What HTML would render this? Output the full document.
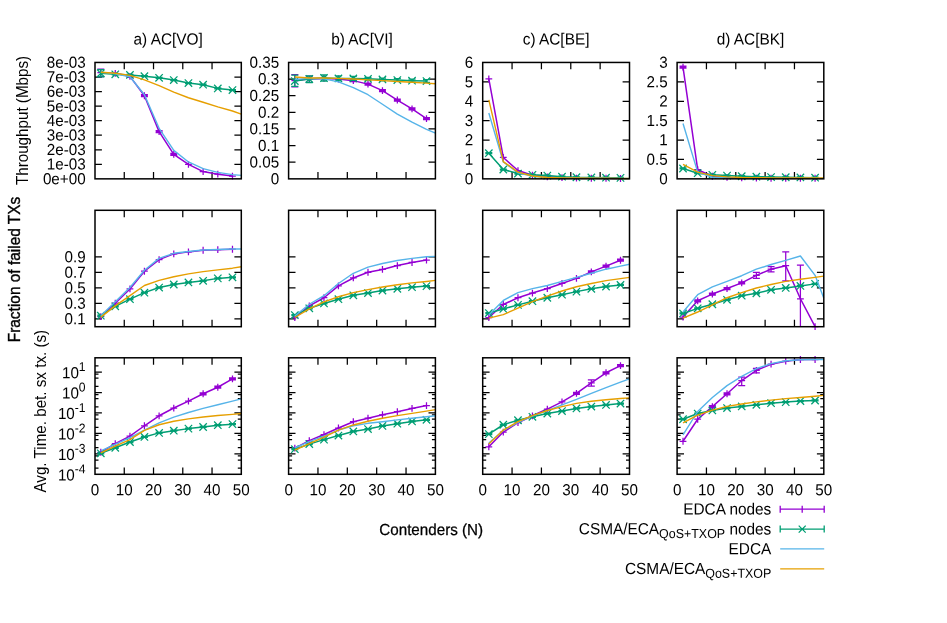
<!DOCTYPE html>
<html><head><meta charset="utf-8"><title>chart</title>
<style>html,body{margin:0;padding:0;background:#fff}body{width:947px;height:623px;overflow:hidden}svg{will-change:transform}</style>
</head><body>
<svg width="947" height="623" viewBox="0 0 947 623" style="display:block" font-family="Liberation Sans, sans-serif" font-size="15.2px" fill="#000">
<rect width="100%" height="100%" fill="#fff"/>
<path d="M124.26 178.85v-6.9M124.26 62.45v6.9M153.52 178.85v-6.9M153.52 62.45v6.9M182.78 178.85v-6.9M182.78 62.45v6.9M212.04 178.85v-6.9M212.04 62.45v6.9M95 164.3h6.9M241.3 164.3h-6.9M95 149.75h6.9M241.3 149.75h-6.9M95 135.2h6.9M241.3 135.2h-6.9M95 120.65h6.9M241.3 120.65h-6.9M95 106.1h6.9M241.3 106.1h-6.9M95 91.55h6.9M241.3 91.55h-6.9M95 77h6.9M241.3 77h-6.9" stroke="#000" stroke-width="1.25" fill="none"/>
<polyline points="100.8,72.69 115.27,73.31 129.95,76.36 144.42,95.73 159.1,131.6 173.77,154.43 188.45,164.41 203.12,171.55 217.8,174.2 232.47,176.03" fill="none" stroke="#9400D3" stroke-width="1.5" stroke-linejoin="round"/>
<path d="M97.4 72.69h6.8M100.8 69.29v6.8M100.8 69.23V76.57M97.3 69.23h7M97.3 76.57h7M111.87 73.31h6.8M115.27 69.91v6.8M126.55 76.36h6.8M129.95 72.96v6.8M126.45 75.36h7M126.45 77.36h7M141.02 95.73h6.8M144.42 92.33v6.8M140.92 94.73h7M140.92 96.73h7M155.7 131.6h6.8M159.1 128.2v6.8M155.6 130.6h7M155.6 132.6h7M170.37 154.43h6.8M173.77 151.03v6.8M170.27 153.43h7M170.27 155.43h7M185.05 164.41h6.8M188.45 161.01v6.8M199.72 171.55h6.8M203.12 168.15v6.8M214.4 174.2h6.8M217.8 170.8v6.8M229.07 176.03h6.8M232.47 172.63v6.8" fill="none" stroke="#9400D3" stroke-width="1.25"/>
<polyline points="100.8,73.31 115.27,74.32 129.95,74.94 144.42,76.16 159.1,77.79 173.77,80.03 188.45,83.09 203.12,84.72 217.8,88.39 232.47,90.02" fill="none" stroke="#009E73" stroke-width="1.5" stroke-linejoin="round"/>
<path d="M97.1 69.61l7.4 7.4M97.1 77.01l7.4 -7.4M100.8 69.64V76.97M97.3 69.64h7M97.3 76.97h7M111.57 70.62l7.4 7.4M111.57 78.02l7.4 -7.4M111.77 73.82h7M111.77 74.82h7M126.25 71.24l7.4 7.4M126.25 78.64l7.4 -7.4M126.45 74.44h7M126.45 75.44h7M140.72 72.46l7.4 7.4M140.72 79.86l7.4 -7.4M140.92 75.66h7M140.92 76.66h7M155.4 74.09l7.4 7.4M155.4 81.49l7.4 -7.4M155.6 77.29h7M155.6 78.29h7M170.07 76.33l7.4 7.4M170.07 83.73l7.4 -7.4M170.27 79.53h7M170.27 80.53h7M184.75 79.39l7.4 7.4M184.75 86.79l7.4 -7.4M184.95 82.59h7M184.95 83.59h7M199.42 81.02l7.4 7.4M199.42 88.42l7.4 -7.4M199.62 84.22h7M199.62 85.22h7M214.1 84.69l7.4 7.4M214.1 92.09l7.4 -7.4M214.3 87.89h7M214.3 88.89h7M228.77 86.32l7.4 7.4M228.77 93.72l7.4 -7.4M228.97 89.52h7M228.97 90.52h7" fill="none" stroke="#009E73" stroke-width="1.25"/>
<polyline points="100.8,72.29 115.27,73.71 129.95,76.77 144.42,94.71 159.1,128.34 173.77,150.35 188.45,161.97 203.12,168.69 217.8,172.36 232.47,174.61 241.24,175.42" fill="none" stroke="#56B4E9" stroke-width="1.4" stroke-linejoin="round"/>
<polyline points="100.8,72.29 115.27,73.31 129.95,75.34 144.42,79.83 159.1,85.54 173.77,92.06 188.45,97.76 203.12,102.25 217.8,106.94 232.47,111.01 241.24,114.07" fill="none" stroke="#E69F00" stroke-width="1.4" stroke-linejoin="round"/>
<rect x="95" y="62.45" width="146.3" height="116.4" fill="none" stroke="#000" stroke-width="1.5"/>
<path d="M317.96 178.85v-6.9M317.96 62.45v6.9M347.32 178.85v-6.9M347.32 62.45v6.9M376.68 178.85v-6.9M376.68 62.45v6.9M406.04 178.85v-6.9M406.04 62.45v6.9M288.6 162.22h6.9M435.4 162.22h-6.9M288.6 145.59h6.9M435.4 145.59h-6.9M288.6 128.96h6.9M435.4 128.96h-6.9M288.6 112.34h6.9M435.4 112.34h-6.9M288.6 95.71h6.9M435.4 95.71h-6.9M288.6 79.08h6.9M435.4 79.08h-6.9" stroke="#000" stroke-width="1.25" fill="none"/>
<polyline points="294.82,80.64 309.29,78.81 323.97,78.4 338.44,79.01 353.32,80.64 367.99,84.11 382.46,90.63 397.34,100.01 412.02,108.97 426.49,118.55" fill="none" stroke="#9400D3" stroke-width="1.5" stroke-linejoin="round"/>
<path d="M291.42 80.64h6.8M294.82 77.24v6.8M294.82 74.53V86.96M291.32 74.53h7M291.32 86.96h7M305.89 78.81h6.8M309.29 75.41v6.8M309.29 76.16V82.27M305.79 76.16h7M305.79 82.27h7M320.57 78.4h6.8M323.97 75v6.8M335.04 79.01h6.8M338.44 75.61v6.8M349.92 80.64h6.8M353.32 77.24v6.8M349.82 79.64h7M349.82 81.64h7M364.59 84.11h6.8M367.99 80.71v6.8M364.49 83.11h7M364.49 85.11h7M379.06 90.63h6.8M382.46 87.23v6.8M378.96 89.63h7M378.96 91.63h7M393.94 100.01h6.8M397.34 96.61v6.8M393.84 99.01h7M393.84 101.01h7M408.62 108.97h6.8M412.02 105.57v6.8M408.52 107.97h7M408.52 109.97h7M423.09 118.55h6.8M426.49 115.15v6.8M422.99 117.55h7M422.99 119.55h7" fill="none" stroke="#9400D3" stroke-width="1.25"/>
<polyline points="294.82,81.05 309.29,79.01 323.97,77.99 338.44,78.4 353.32,78.4 367.99,78.81 382.46,79.42 397.34,80.03 412.02,80.64 426.49,81.05" fill="none" stroke="#009E73" stroke-width="1.5" stroke-linejoin="round"/>
<path d="M291.12 77.35l7.4 7.4M291.12 84.75l7.4 -7.4M294.82 75.14V86.35M291.32 75.14h7M291.32 86.35h7M305.59 75.31l7.4 7.4M305.59 82.71l7.4 -7.4M309.29 75.75V82.68M305.79 75.75h7M305.79 82.68h7M320.27 74.29l7.4 7.4M320.27 81.69l7.4 -7.4M323.97 74.94V81.05M320.47 74.94h7M320.47 81.05h7M334.74 74.7l7.4 7.4M334.74 82.1l7.4 -7.4M338.44 75.96V80.85M334.94 75.96h7M334.94 80.85h7M349.62 74.7l7.4 7.4M349.62 82.1l7.4 -7.4M353.32 76.36V80.44M349.82 76.36h7M349.82 80.44h7M364.29 75.11l7.4 7.4M364.29 82.51l7.4 -7.4M364.49 77.41h7M364.49 80.21h7M378.76 75.72l7.4 7.4M378.76 83.12l7.4 -7.4M378.96 78.02h7M378.96 80.82h7M393.64 76.33l7.4 7.4M393.64 83.73l7.4 -7.4M393.84 78.63h7M393.84 81.43h7M408.32 76.94l7.4 7.4M408.32 84.34l7.4 -7.4M408.52 79.24h7M408.52 82.04h7M422.79 77.35l7.4 7.4M422.79 84.75l7.4 -7.4M422.99 79.65h7M422.99 82.45h7" fill="none" stroke="#009E73" stroke-width="1.25"/>
<polyline points="294.82,79.42 309.29,78.4 323.97,78.81 338.44,81.87 353.32,87.57 367.99,94.71 382.46,104.29 397.34,114.07 412.02,122.22 426.49,129.36 435.46,133.03" fill="none" stroke="#56B4E9" stroke-width="1.4" stroke-linejoin="round"/>
<polyline points="294.82,76.97 309.29,77.99 323.97,77.99 338.44,78.4 353.32,79.01 367.99,79.83 382.46,80.64 397.34,81.46 412.02,82.27 426.49,83.09 435.46,83.7" fill="none" stroke="#E69F00" stroke-width="1.4" stroke-linejoin="round"/>
<rect x="288.6" y="62.45" width="146.8" height="116.4" fill="none" stroke="#000" stroke-width="1.5"/>
<path d="M512.06 178.85v-6.9M512.06 62.45v6.9M541.42 178.85v-6.9M541.42 62.45v6.9M570.78 178.85v-6.9M570.78 62.45v6.9M600.14 178.85v-6.9M600.14 62.45v6.9M482.7 159.45h6.9M629.5 159.45h-6.9M482.7 140.05h6.9M629.5 140.05h-6.9M482.7 120.65h6.9M629.5 120.65h-6.9M482.7 101.25h6.9M629.5 101.25h-6.9M482.7 81.85h6.9M629.5 81.85h-6.9" stroke="#000" stroke-width="1.25" fill="none"/>
<polyline points="488.82,78.81 503.29,157.48 517.97,170.53 532.44,175.22 547.32,176.85 561.99,177.66 576.46,178.07 591.34,178.27 606.02,178.27 620.49,178.48" fill="none" stroke="#9400D3" stroke-width="1.5" stroke-linejoin="round"/>
<path d="M485.42 78.81h6.8M488.82 75.41v6.8M499.89 157.48h6.8M503.29 154.08v6.8M514.57 170.53h6.8M517.97 167.13v6.8M529.04 175.22h6.8M532.44 171.82v6.8M543.92 176.85h6.8M547.32 173.45v6.8M558.59 177.66h6.8M561.99 174.26v6.8M573.06 178.07h6.8M576.46 174.67v6.8M587.94 178.27h6.8M591.34 174.87v6.8M602.62 178.27h6.8M606.02 174.87v6.8M617.09 178.48h6.8M620.49 175.08v6.8" fill="none" stroke="#9400D3" stroke-width="1.25"/>
<polyline points="488.82,153.2 503.29,169.51 517.97,173.59 532.44,174.81 547.32,175.62 561.99,176.64 576.46,177.25 591.34,177.46 606.02,177.66 620.49,177.87" fill="none" stroke="#009E73" stroke-width="1.5" stroke-linejoin="round"/>
<path d="M485.12 149.5l7.4 7.4M485.12 156.9l7.4 -7.4M485.32 152.7h7M485.32 153.7h7M499.59 165.81l7.4 7.4M499.59 173.21l7.4 -7.4M499.79 169.01h7M499.79 170.01h7M514.27 169.89l7.4 7.4M514.27 177.29l7.4 -7.4M514.47 173.09h7M514.47 174.09h7M528.74 171.11l7.4 7.4M528.74 178.51l7.4 -7.4M528.94 174.31h7M528.94 175.31h7M543.62 171.92l7.4 7.4M543.62 179.32l7.4 -7.4M543.82 175.12h7M543.82 176.12h7M558.29 172.94l7.4 7.4M558.29 180.34l7.4 -7.4M558.49 176.14h7M558.49 177.14h7M572.76 173.55l7.4 7.4M572.76 180.95l7.4 -7.4M572.96 176.75h7M572.96 177.75h7M587.64 173.76l7.4 7.4M587.64 181.16l7.4 -7.4M587.84 176.96h7M587.84 177.96h7M602.32 173.96l7.4 7.4M602.32 181.36l7.4 -7.4M602.52 177.16h7M602.52 178.16h7M616.79 174.17l7.4 7.4M616.79 181.57l7.4 -7.4M616.99 177.37h7M616.99 178.37h7" fill="none" stroke="#009E73" stroke-width="1.25"/>
<polyline points="488.82,113.05 503.29,161.97 517.97,172.77 532.44,176.24 547.32,177.46 561.99,177.87 576.46,178.07 591.34,178.27 606.02,178.27 620.49,178.48 629.46,178.48" fill="none" stroke="#56B4E9" stroke-width="1.4" stroke-linejoin="round"/>
<polyline points="488.82,99.8 503.29,161.56 517.97,172.16 532.44,176.03 547.32,177.46 561.99,177.87 576.46,178.07 591.34,178.27 606.02,178.27 620.49,178.48 629.46,178.48" fill="none" stroke="#E69F00" stroke-width="1.4" stroke-linejoin="round"/>
<rect x="482.7" y="62.45" width="146.8" height="116.4" fill="none" stroke="#000" stroke-width="1.5"/>
<path d="M706.44 178.85v-6.9M706.44 62.45v6.9M735.78 178.85v-6.9M735.78 62.45v6.9M765.12 178.85v-6.9M765.12 62.45v6.9M794.46 178.85v-6.9M794.46 62.45v6.9M677.1 159.45h6.9M823.8 159.45h-6.9M677.1 140.05h6.9M823.8 140.05h-6.9M677.1 120.65h6.9M823.8 120.65h-6.9M677.1 101.25h6.9M823.8 101.25h-6.9M677.1 81.85h6.9M823.8 81.85h-6.9" stroke="#000" stroke-width="1.25" fill="none"/>
<polyline points="683.01,67.19 697.68,169.71 712.36,176.24 727.03,177.46 741.71,177.87 756.38,178.07 771.06,178.27 785.73,178.27 800.41,178.27 815.08,178.27" fill="none" stroke="#9400D3" stroke-width="1.5" stroke-linejoin="round"/>
<path d="M679.61 67.19h6.8M683.01 63.79v6.8M679.51 66.19h7M679.51 68.19h7M694.28 169.71h6.8M697.68 166.31v6.8M708.96 176.24h6.8M712.36 172.84v6.8M723.63 177.46h6.8M727.03 174.06v6.8M738.31 177.87h6.8M741.71 174.47v6.8M752.98 178.07h6.8M756.38 174.67v6.8M767.66 178.27h6.8M771.06 174.87v6.8M782.33 178.27h6.8M785.73 174.87v6.8M797.01 178.27h6.8M800.41 174.87v6.8M811.68 178.27h6.8M815.08 174.87v6.8" fill="none" stroke="#9400D3" stroke-width="1.25"/>
<polyline points="683.01,168.49 697.68,173.18 712.36,174.81 727.03,175.62 741.71,176.24 756.38,176.64 771.06,177.05 785.73,177.25 800.41,177.46 815.08,177.66" fill="none" stroke="#009E73" stroke-width="1.5" stroke-linejoin="round"/>
<path d="M679.31 164.79l7.4 7.4M679.31 172.19l7.4 -7.4M679.51 167.99h7M679.51 168.99h7M693.98 169.48l7.4 7.4M693.98 176.88l7.4 -7.4M694.18 172.68h7M694.18 173.68h7M708.66 171.11l7.4 7.4M708.66 178.51l7.4 -7.4M708.86 174.31h7M708.86 175.31h7M723.33 171.92l7.4 7.4M723.33 179.32l7.4 -7.4M723.53 175.12h7M723.53 176.12h7M738.01 172.54l7.4 7.4M738.01 179.94l7.4 -7.4M738.21 175.74h7M738.21 176.74h7M752.68 172.94l7.4 7.4M752.68 180.34l7.4 -7.4M752.88 176.14h7M752.88 177.14h7M767.36 173.35l7.4 7.4M767.36 180.75l7.4 -7.4M767.56 176.55h7M767.56 177.55h7M782.03 173.55l7.4 7.4M782.03 180.95l7.4 -7.4M782.23 176.75h7M782.23 177.75h7M796.71 173.76l7.4 7.4M796.71 181.16l7.4 -7.4M796.91 176.96h7M796.91 177.96h7M811.38 173.96l7.4 7.4M811.38 181.36l7.4 -7.4M811.58 177.16h7M811.58 178.16h7" fill="none" stroke="#009E73" stroke-width="1.25"/>
<polyline points="683.01,123.45 697.68,172.16 712.36,177.25 727.03,177.87 741.71,178.07 756.38,178.27 771.06,178.27 785.73,178.27 800.41,178.27 815.08,178.27 823.64,178.27" fill="none" stroke="#56B4E9" stroke-width="1.4" stroke-linejoin="round"/>
<polyline points="683.01,164.41 697.68,172.16 712.36,175.62 727.03,176.85 741.71,177.46 756.38,177.66 771.06,177.87 785.73,178.07 800.41,178.07 815.08,178.07 823.64,178.07" fill="none" stroke="#E69F00" stroke-width="1.4" stroke-linejoin="round"/>
<rect x="677.1" y="62.45" width="146.7" height="116.4" fill="none" stroke="#000" stroke-width="1.5"/>
<path d="M124.26 326.7v-6.9M124.26 210.3v6.9M153.52 326.7v-6.9M153.52 210.3v6.9M182.78 326.7v-6.9M182.78 210.3v6.9M212.04 326.7v-6.9M212.04 210.3v6.9M95 318.94h6.9M241.3 318.94h-6.9M95 303.42h6.9M241.3 303.42h-6.9M95 287.9h6.9M241.3 287.9h-6.9M95 272.38h6.9M241.3 272.38h-6.9M95 256.86h6.9M241.3 256.86h-6.9" stroke="#000" stroke-width="1.25" fill="none"/>
<polyline points="100.8,316.69 115.27,303.24 129.95,288.97 144.42,271.24 159.1,259.62 173.77,253.92 188.45,251.88 203.12,250.25 217.8,249.64 232.47,249.23" fill="none" stroke="#9400D3" stroke-width="1.5" stroke-linejoin="round"/>
<path d="M97.4 316.69h6.8M100.8 313.29v6.8M111.87 303.24h6.8M115.27 299.84v6.8M126.55 288.97h6.8M129.95 285.57v6.8M141.02 271.24h6.8M144.42 267.84v6.8M155.7 259.62h6.8M159.1 256.22v6.8M170.37 253.92h6.8M173.77 250.52v6.8M185.05 251.88h6.8M188.45 248.48v6.8M199.72 250.25h6.8M203.12 246.85v6.8M214.4 249.64h6.8M217.8 246.24v6.8M229.07 249.23h6.8M232.47 245.83v6.8" fill="none" stroke="#9400D3" stroke-width="1.25"/>
<polyline points="100.8,315.68 115.27,306.3 129.95,299.17 144.42,292.64 159.1,287.55 173.77,284.49 188.45,282.45 203.12,280.82 217.8,278.38 232.47,277.36" fill="none" stroke="#009E73" stroke-width="1.5" stroke-linejoin="round"/>
<path d="M97.1 311.98l7.4 7.4M97.1 319.38l7.4 -7.4M97.3 315.18h7M97.3 316.18h7M111.57 302.6l7.4 7.4M111.57 310l7.4 -7.4M111.77 305.8h7M111.77 306.8h7M126.25 295.47l7.4 7.4M126.25 302.87l7.4 -7.4M126.45 298.67h7M126.45 299.67h7M140.72 288.94l7.4 7.4M140.72 296.34l7.4 -7.4M140.92 292.14h7M140.92 293.14h7M155.4 283.85l7.4 7.4M155.4 291.25l7.4 -7.4M155.6 287.05h7M155.6 288.05h7M170.07 280.79l7.4 7.4M170.07 288.19l7.4 -7.4M170.27 283.99h7M170.27 284.99h7M184.75 278.75l7.4 7.4M184.75 286.15l7.4 -7.4M184.95 281.95h7M184.95 282.95h7M199.42 277.12l7.4 7.4M199.42 284.52l7.4 -7.4M199.62 280.32h7M199.62 281.32h7M214.1 274.68l7.4 7.4M214.1 282.08l7.4 -7.4M214.3 277.88h7M214.3 278.88h7M228.77 273.66l7.4 7.4M228.77 281.06l7.4 -7.4M228.97 276.86h7M228.97 277.86h7" fill="none" stroke="#009E73" stroke-width="1.25"/>
<polyline points="100.8,315.68 115.27,301.82 129.95,287.55 144.42,270.22 159.1,258.4 173.77,253.31 188.45,251.47 203.12,250.04 217.8,249.43 232.47,249.03 241.24,249.03" fill="none" stroke="#56B4E9" stroke-width="1.4" stroke-linejoin="round"/>
<polyline points="100.8,317.1 115.27,305.89 129.95,295.7 144.42,285.51 159.1,280.41 173.77,276.75 188.45,273.89 203.12,271.65 217.8,269.82 232.47,268.18 241.24,266.76" fill="none" stroke="#E69F00" stroke-width="1.4" stroke-linejoin="round"/>
<rect x="95" y="210.3" width="146.3" height="116.4" fill="none" stroke="#000" stroke-width="1.5"/>
<path d="M317.96 326.7v-6.9M317.96 210.3v6.9M347.32 326.7v-6.9M347.32 210.3v6.9M376.68 326.7v-6.9M376.68 210.3v6.9M406.04 326.7v-6.9M406.04 210.3v6.9M288.6 318.94h6.9M435.4 318.94h-6.9M288.6 303.42h6.9M435.4 303.42h-6.9M288.6 287.9h6.9M435.4 287.9h-6.9M288.6 272.38h6.9M435.4 272.38h-6.9M288.6 256.86h6.9M435.4 256.86h-6.9" stroke="#000" stroke-width="1.25" fill="none"/>
<polyline points="294.82,317.71 309.29,305.89 323.97,297.74 338.44,285.92 353.32,277.97 367.99,272.26 382.46,269.41 397.34,265.54 412.02,262.48 426.49,260.03" fill="none" stroke="#9400D3" stroke-width="1.5" stroke-linejoin="round"/>
<path d="M291.42 317.71h6.8M294.82 314.31v6.8M305.89 305.89h6.8M309.29 302.49v6.8M320.57 297.74h6.8M323.97 294.34v6.8M335.04 285.92h6.8M338.44 282.52v6.8M349.92 277.97h6.8M353.32 274.57v6.8M364.59 272.26h6.8M367.99 268.86v6.8M379.06 269.41h6.8M382.46 266.01v6.8M393.94 265.54h6.8M397.34 262.14v6.8M408.62 262.48h6.8M412.02 259.08v6.8M423.09 260.03h6.8M426.49 256.63v6.8" fill="none" stroke="#9400D3" stroke-width="1.25"/>
<polyline points="294.82,315.06 309.29,308.34 323.97,303.45 338.44,299.17 353.32,295.29 367.99,293.05 382.46,290.61 397.34,288.77 412.02,287.14 426.49,286.12" fill="none" stroke="#009E73" stroke-width="1.5" stroke-linejoin="round"/>
<path d="M291.12 311.36l7.4 7.4M291.12 318.76l7.4 -7.4M291.32 314.56h7M291.32 315.56h7M305.59 304.64l7.4 7.4M305.59 312.04l7.4 -7.4M305.79 307.84h7M305.79 308.84h7M320.27 299.75l7.4 7.4M320.27 307.15l7.4 -7.4M320.47 302.95h7M320.47 303.95h7M334.74 295.47l7.4 7.4M334.74 302.87l7.4 -7.4M334.94 298.67h7M334.94 299.67h7M349.62 291.59l7.4 7.4M349.62 298.99l7.4 -7.4M349.82 294.79h7M349.82 295.79h7M364.29 289.35l7.4 7.4M364.29 296.75l7.4 -7.4M364.49 292.55h7M364.49 293.55h7M378.76 286.91l7.4 7.4M378.76 294.31l7.4 -7.4M378.96 290.11h7M378.96 291.11h7M393.64 285.07l7.4 7.4M393.64 292.47l7.4 -7.4M393.84 288.27h7M393.84 289.27h7M408.32 283.44l7.4 7.4M408.32 290.84l7.4 -7.4M408.52 286.64h7M408.52 287.64h7M422.79 282.42l7.4 7.4M422.79 289.82l7.4 -7.4M422.99 285.62h7M422.99 286.62h7" fill="none" stroke="#009E73" stroke-width="1.25"/>
<polyline points="294.82,316.08 309.29,304.26 323.97,295.7 338.44,283.47 353.32,273.28 367.99,267.17 382.46,263.5 397.34,260.44 412.02,258.4 426.49,256.77 435.46,256.36" fill="none" stroke="#56B4E9" stroke-width="1.4" stroke-linejoin="round"/>
<polyline points="294.82,317.51 309.29,308.95 323.97,301.82 338.44,296.72 353.32,292.64 367.99,289.59 382.46,286.94 397.34,284.69 412.02,282.86 426.49,281.43 435.46,280.41" fill="none" stroke="#E69F00" stroke-width="1.4" stroke-linejoin="round"/>
<rect x="288.6" y="210.3" width="146.8" height="116.4" fill="none" stroke="#000" stroke-width="1.5"/>
<path d="M512.06 326.7v-6.9M512.06 210.3v6.9M541.42 326.7v-6.9M541.42 210.3v6.9M570.78 326.7v-6.9M570.78 210.3v6.9M600.14 326.7v-6.9M600.14 210.3v6.9M482.7 318.94h6.9M629.5 318.94h-6.9M482.7 303.42h6.9M629.5 303.42h-6.9M482.7 287.9h6.9M629.5 287.9h-6.9M482.7 272.38h6.9M629.5 272.38h-6.9M482.7 256.86h6.9M629.5 256.86h-6.9" stroke="#000" stroke-width="1.25" fill="none"/>
<polyline points="488.82,317.51 503.29,304.46 517.97,297.74 532.44,293.05 547.32,288.57 561.99,283.47 576.46,278.38 591.34,271.85 606.02,266.15 620.49,260.24" fill="none" stroke="#9400D3" stroke-width="1.5" stroke-linejoin="round"/>
<path d="M485.42 317.51h6.8M488.82 314.11v6.8M499.89 304.46h6.8M503.29 301.06v6.8M514.57 297.74h6.8M517.97 294.34v6.8M529.04 293.05h6.8M532.44 289.65v6.8M543.92 288.57h6.8M547.32 285.17v6.8M558.59 283.47h6.8M561.99 280.07v6.8M573.06 278.38h6.8M576.46 274.98v6.8M587.94 271.85h6.8M591.34 268.45v6.8M587.84 270.85h7M587.84 272.85h7M602.62 266.15h6.8M606.02 262.75v6.8M602.52 265.15h7M602.52 267.15h7M617.09 260.24h6.8M620.49 256.84v6.8M616.99 259.24h7M616.99 261.24h7" fill="none" stroke="#9400D3" stroke-width="1.25"/>
<polyline points="488.82,313.03 503.29,308.95 517.97,304.87 532.44,301.2 547.32,297.74 561.99,294.68 576.46,291.62 591.34,288.77 606.02,286.53 620.49,284.9" fill="none" stroke="#009E73" stroke-width="1.5" stroke-linejoin="round"/>
<path d="M485.12 309.33l7.4 7.4M485.12 316.73l7.4 -7.4M485.32 312.53h7M485.32 313.53h7M499.59 305.25l7.4 7.4M499.59 312.65l7.4 -7.4M499.79 308.45h7M499.79 309.45h7M514.27 301.17l7.4 7.4M514.27 308.57l7.4 -7.4M514.47 304.37h7M514.47 305.37h7M528.74 297.5l7.4 7.4M528.74 304.9l7.4 -7.4M528.94 300.7h7M528.94 301.7h7M543.62 294.04l7.4 7.4M543.62 301.44l7.4 -7.4M543.82 297.24h7M543.82 298.24h7M558.29 290.98l7.4 7.4M558.29 298.38l7.4 -7.4M558.49 294.18h7M558.49 295.18h7M572.76 287.92l7.4 7.4M572.76 295.32l7.4 -7.4M572.96 291.12h7M572.96 292.12h7M587.64 285.07l7.4 7.4M587.64 292.47l7.4 -7.4M587.84 288.27h7M587.84 289.27h7M602.32 282.83l7.4 7.4M602.32 290.23l7.4 -7.4M602.52 286.03h7M602.52 287.03h7M616.79 281.2l7.4 7.4M616.79 288.6l7.4 -7.4M616.99 284.4h7M616.99 285.4h7" fill="none" stroke="#009E73" stroke-width="1.25"/>
<polyline points="488.82,315.06 503.29,300.39 517.97,292.64 532.44,288.57 547.32,285.51 561.99,281.43 576.46,277.36 591.34,273.28 606.02,269.2 620.49,266.15 629.46,264.31" fill="none" stroke="#56B4E9" stroke-width="1.4" stroke-linejoin="round"/>
<polyline points="488.82,318.12 503.29,314.66 517.97,308.13 532.44,301.61 547.32,296.11 561.99,291.01 576.46,286.73 591.34,283.47 606.02,280.62 620.49,278.58 629.46,277.36" fill="none" stroke="#E69F00" stroke-width="1.4" stroke-linejoin="round"/>
<rect x="482.7" y="210.3" width="146.8" height="116.4" fill="none" stroke="#000" stroke-width="1.5"/>
<path d="M706.44 326.7v-6.9M706.44 210.3v6.9M735.78 326.7v-6.9M735.78 210.3v6.9M765.12 326.7v-6.9M765.12 210.3v6.9M794.46 326.7v-6.9M794.46 210.3v6.9M677.1 318.94h6.9M823.8 318.94h-6.9M677.1 303.42h6.9M823.8 303.42h-6.9M677.1 287.9h6.9M823.8 287.9h-6.9M677.1 272.38h6.9M823.8 272.38h-6.9M677.1 256.86h6.9M823.8 256.86h-6.9" stroke="#000" stroke-width="1.25" fill="none"/>
<polyline points="683.01,317.1 697.68,300.8 712.36,294.07 727.03,288.57 741.71,282.86 756.38,275.32 771.06,269.2 785.73,265.74 800.41,298.76 815.08,326.68" fill="none" stroke="#9400D3" stroke-width="1.5" stroke-linejoin="round"/>
<path d="M679.61 317.1h6.8M683.01 313.7v6.8M694.28 300.8h6.8M697.68 297.4v6.8M694.18 299.8h7M694.18 301.8h7M708.96 294.07h6.8M712.36 290.67v6.8M708.86 293.07h7M708.86 295.07h7M723.63 288.57h6.8M727.03 285.17v6.8M723.53 287.57h7M723.53 289.57h7M738.31 282.86h6.8M741.71 279.46v6.8M738.21 281.86h7M738.21 283.86h7M752.98 275.32h6.8M756.38 271.92v6.8M756.38 272.26V278.38M752.88 272.26h7M752.88 278.38h7M767.66 269.2h6.8M771.06 265.8v6.8M771.06 266.55V271.85M767.56 266.55h7M767.56 271.85h7M782.33 265.74h6.8M785.73 262.34v6.8M785.73 251.88V280.82M782.23 251.88h7M782.23 280.82h7M797.01 298.76h6.8M800.41 295.36v6.8M800.41 265.13V326.68M796.91 265.13h7M811.68 326.68h6.8M815.08 323.28v6.8" fill="none" stroke="#9400D3" stroke-width="1.25"/>
<polyline points="683.01,313.43 697.68,308.34 712.36,304.26 727.03,299.78 741.71,295.7 756.38,293.25 771.06,289.79 785.73,287.96 800.41,285.92 815.08,283.88" fill="none" stroke="#009E73" stroke-width="1.5" stroke-linejoin="round"/>
<path d="M679.31 309.73l7.4 7.4M679.31 317.13l7.4 -7.4M679.51 312.93h7M679.51 313.93h7M693.98 304.64l7.4 7.4M693.98 312.04l7.4 -7.4M694.18 307.84h7M694.18 308.84h7M708.66 300.56l7.4 7.4M708.66 307.96l7.4 -7.4M708.86 303.76h7M708.86 304.76h7M723.33 296.08l7.4 7.4M723.33 303.48l7.4 -7.4M723.53 299.28h7M723.53 300.28h7M738.01 292l7.4 7.4M738.01 299.4l7.4 -7.4M738.21 295.2h7M738.21 296.2h7M752.68 289.55l7.4 7.4M752.68 296.95l7.4 -7.4M752.88 292.75h7M752.88 293.75h7M767.36 286.09l7.4 7.4M767.36 293.49l7.4 -7.4M767.56 289.29h7M767.56 290.29h7M782.03 284.26l7.4 7.4M782.03 291.66l7.4 -7.4M782.23 287.46h7M782.23 288.46h7M796.71 282.22l7.4 7.4M796.71 289.62l7.4 -7.4M796.91 285.42h7M796.91 286.42h7M811.38 280.18l7.4 7.4M811.38 287.58l7.4 -7.4M811.58 283.38h7M811.58 284.38h7" fill="none" stroke="#009E73" stroke-width="1.25"/>
<polyline points="683.01,312.01 697.68,294.68 712.36,286.94 727.03,281.43 741.71,275.73 756.38,269.2 771.06,264.52 785.73,260.44 800.41,255.96 815.08,275.32 823.64,297.74" fill="none" stroke="#56B4E9" stroke-width="1.4" stroke-linejoin="round"/>
<polyline points="683.01,318.12 697.68,312.01 712.36,304.87 727.03,297.74 741.71,292.64 756.38,287.96 771.06,284.49 785.73,281.43 800.41,279.19 815.08,277.36 823.64,276.13" fill="none" stroke="#E69F00" stroke-width="1.4" stroke-linejoin="round"/>
<rect x="677.1" y="210.3" width="146.7" height="116.4" fill="none" stroke="#000" stroke-width="1.5"/>
<path d="M124.26 474.3v-6.9M124.26 357.8v6.9M153.52 474.3v-6.9M153.52 357.8v6.9M182.78 474.3v-6.9M182.78 357.8v6.9M212.04 474.3v-6.9M212.04 357.8v6.9M95 453.86h6.9M241.3 453.86h-6.9M95 433.42h6.9M241.3 433.42h-6.9M95 412.97h6.9M241.3 412.97h-6.9M95 392.53h6.9M241.3 392.53h-6.9M95 372.09h6.9M241.3 372.09h-6.9M95 468.15h3.5M241.3 468.15h-3.5M95 460.01h3.5M241.3 460.01h-3.5M95 455.84h3.5M241.3 455.84h-3.5M95 447.7h3.5M241.3 447.7h-3.5M95 439.57h3.5M241.3 439.57h-3.5M95 435.4h3.5M241.3 435.4h-3.5M95 427.26h3.5M241.3 427.26h-3.5M95 419.13h3.5M241.3 419.13h-3.5M95 414.95h3.5M241.3 414.95h-3.5M95 406.82h3.5M241.3 406.82h-3.5M95 398.68h3.5M241.3 398.68h-3.5M95 394.51h3.5M241.3 394.51h-3.5M95 386.38h3.5M241.3 386.38h-3.5M95 378.24h3.5M241.3 378.24h-3.5M95 374.07h3.5M241.3 374.07h-3.5M95 365.93h3.5M241.3 365.93h-3.5" stroke="#000" stroke-width="1.25" fill="none"/>
<polyline points="100.8,452.26 115.27,443.7 129.95,436.16 144.42,425.76 159.1,415.78 173.77,408.03 188.45,401.1 203.12,393.76 217.8,387.24 232.47,378.89" fill="none" stroke="#9400D3" stroke-width="1.5" stroke-linejoin="round"/>
<path d="M97.4 452.26h6.8M100.8 448.86v6.8M111.87 443.7h6.8M115.27 440.3v6.8M126.55 436.16h6.8M129.95 432.76v6.8M141.02 425.76h6.8M144.42 422.36v6.8M155.7 415.78h6.8M159.1 412.38v6.8M170.37 408.03h6.8M173.77 404.63v6.8M185.05 401.1h6.8M188.45 397.7v6.8M199.72 393.76h6.8M203.12 390.36v6.8M199.62 392.76h7M199.62 394.76h7M214.4 387.24h6.8M217.8 383.84v6.8M214.3 386.24h7M214.3 388.24h7M229.07 378.89h6.8M232.47 375.49v6.8M228.97 377.89h7M228.97 379.89h7" fill="none" stroke="#9400D3" stroke-width="1.25"/>
<polyline points="100.8,453.28 115.27,447.78 129.95,442.07 144.42,436.97 159.1,432.9 173.77,430.66 188.45,428.62 203.12,426.99 217.8,425.15 232.47,424.13" fill="none" stroke="#009E73" stroke-width="1.5" stroke-linejoin="round"/>
<path d="M97.1 449.58l7.4 7.4M97.1 456.98l7.4 -7.4M97.3 452.78h7M97.3 453.78h7M111.57 444.08l7.4 7.4M111.57 451.48l7.4 -7.4M111.77 447.28h7M111.77 448.28h7M126.25 438.37l7.4 7.4M126.25 445.77l7.4 -7.4M126.45 441.57h7M126.45 442.57h7M140.72 433.27l7.4 7.4M140.72 440.67l7.4 -7.4M140.92 436.47h7M140.92 437.47h7M155.4 429.2l7.4 7.4M155.4 436.6l7.4 -7.4M155.6 432.4h7M155.6 433.4h7M170.07 426.96l7.4 7.4M170.07 434.36l7.4 -7.4M170.27 430.16h7M170.27 431.16h7M184.75 424.92l7.4 7.4M184.75 432.32l7.4 -7.4M184.95 428.12h7M184.95 429.12h7M199.42 423.29l7.4 7.4M199.42 430.69l7.4 -7.4M199.62 426.49h7M199.62 427.49h7M214.1 421.45l7.4 7.4M214.1 428.85l7.4 -7.4M214.3 424.65h7M214.3 425.65h7M228.77 420.43l7.4 7.4M228.77 427.83l7.4 -7.4M228.97 423.63h7M228.97 424.63h7" fill="none" stroke="#009E73" stroke-width="1.25"/>
<polyline points="100.8,450.83 115.27,444.31 129.95,437.59 144.42,430.04 159.1,422.91 173.77,417.2 188.45,412.52 203.12,408.44 217.8,404.77 232.47,401.1 241.24,398.86" fill="none" stroke="#56B4E9" stroke-width="1.4" stroke-linejoin="round"/>
<polyline points="100.8,452.87 115.27,446.15 129.95,439.62 144.42,430.45 159.1,424.75 173.77,421.28 188.45,418.83 203.12,417 217.8,415.57 232.47,414.35 241.24,413.54" fill="none" stroke="#E69F00" stroke-width="1.4" stroke-linejoin="round"/>
<rect x="95" y="357.8" width="146.3" height="116.5" fill="none" stroke="#000" stroke-width="1.5"/>
<path d="M317.96 474.3v-6.9M317.96 357.8v6.9M347.32 474.3v-6.9M347.32 357.8v6.9M376.68 474.3v-6.9M376.68 357.8v6.9M406.04 474.3v-6.9M406.04 357.8v6.9M288.6 453.86h6.9M435.4 453.86h-6.9M288.6 433.42h6.9M435.4 433.42h-6.9M288.6 412.97h6.9M435.4 412.97h-6.9M288.6 392.53h6.9M435.4 392.53h-6.9M288.6 372.09h6.9M435.4 372.09h-6.9M288.6 468.15h3.5M435.4 468.15h-3.5M288.6 460.01h3.5M435.4 460.01h-3.5M288.6 455.84h3.5M435.4 455.84h-3.5M288.6 447.7h3.5M435.4 447.7h-3.5M288.6 439.57h3.5M435.4 439.57h-3.5M288.6 435.4h3.5M435.4 435.4h-3.5M288.6 427.26h3.5M435.4 427.26h-3.5M288.6 419.13h3.5M435.4 419.13h-3.5M288.6 414.95h3.5M435.4 414.95h-3.5M288.6 406.82h3.5M435.4 406.82h-3.5M288.6 398.68h3.5M435.4 398.68h-3.5M288.6 394.51h3.5M435.4 394.51h-3.5M288.6 386.38h3.5M435.4 386.38h-3.5M288.6 378.24h3.5M435.4 378.24h-3.5M288.6 374.07h3.5M435.4 374.07h-3.5M288.6 365.93h3.5M435.4 365.93h-3.5" stroke="#000" stroke-width="1.25" fill="none"/>
<polyline points="294.82,448.18 309.29,440.64 323.97,434.53 338.44,428.01 353.32,421.69 367.99,418.22 382.46,414.76 397.34,411.7 412.02,408.44 426.49,405.59" fill="none" stroke="#9400D3" stroke-width="1.5" stroke-linejoin="round"/>
<path d="M291.42 448.18h6.8M294.82 444.78v6.8M305.89 440.64h6.8M309.29 437.24v6.8M320.57 434.53h6.8M323.97 431.13v6.8M335.04 428.01h6.8M338.44 424.61v6.8M349.92 421.69h6.8M353.32 418.29v6.8M364.59 418.22h6.8M367.99 414.82v6.8M379.06 414.76h6.8M382.46 411.36v6.8M393.94 411.7h6.8M397.34 408.3v6.8M408.62 408.44h6.8M412.02 405.04v6.8M423.09 405.59h6.8M426.49 402.19v6.8" fill="none" stroke="#9400D3" stroke-width="1.25"/>
<polyline points="294.82,449.2 309.29,444.11 323.97,439.62 338.44,435.55 353.32,431.47 367.99,429.03 382.46,425.97 397.34,423.73 412.02,421.48 426.49,419.85" fill="none" stroke="#009E73" stroke-width="1.5" stroke-linejoin="round"/>
<path d="M291.12 445.5l7.4 7.4M291.12 452.9l7.4 -7.4M291.32 448.7h7M291.32 449.7h7M305.59 440.41l7.4 7.4M305.59 447.81l7.4 -7.4M305.79 443.61h7M305.79 444.61h7M320.27 435.92l7.4 7.4M320.27 443.32l7.4 -7.4M320.47 439.12h7M320.47 440.12h7M334.74 431.85l7.4 7.4M334.74 439.25l7.4 -7.4M334.94 435.05h7M334.94 436.05h7M349.62 427.77l7.4 7.4M349.62 435.17l7.4 -7.4M349.82 430.97h7M349.82 431.97h7M364.29 425.33l7.4 7.4M364.29 432.73l7.4 -7.4M364.49 428.53h7M364.49 429.53h7M378.76 422.27l7.4 7.4M378.76 429.67l7.4 -7.4M378.96 425.47h7M378.96 426.47h7M393.64 420.03l7.4 7.4M393.64 427.43l7.4 -7.4M393.84 423.23h7M393.84 424.23h7M408.32 417.78l7.4 7.4M408.32 425.18l7.4 -7.4M408.52 420.98h7M408.52 421.98h7M422.79 416.15l7.4 7.4M422.79 423.55l7.4 -7.4M422.99 419.35h7M422.99 420.35h7" fill="none" stroke="#009E73" stroke-width="1.25"/>
<polyline points="294.82,447.78 309.29,441.66 323.97,436.16 338.44,430.04 353.32,425.76 367.99,423.32 382.46,421.69 397.34,419.85 412.02,418.22 426.49,416.8 435.46,415.78" fill="none" stroke="#56B4E9" stroke-width="1.4" stroke-linejoin="round"/>
<polyline points="294.82,450.22 309.29,443.7 323.97,437.18 338.44,430.04 353.32,424.95 367.99,421.28 382.46,418.22 397.34,415.57 412.02,413.33 426.49,411.09 435.46,409.66" fill="none" stroke="#E69F00" stroke-width="1.4" stroke-linejoin="round"/>
<rect x="288.6" y="357.8" width="146.8" height="116.5" fill="none" stroke="#000" stroke-width="1.5"/>
<path d="M512.06 474.3v-6.9M512.06 357.8v6.9M541.42 474.3v-6.9M541.42 357.8v6.9M570.78 474.3v-6.9M570.78 357.8v6.9M600.14 474.3v-6.9M600.14 357.8v6.9M482.7 453.86h6.9M629.5 453.86h-6.9M482.7 433.42h6.9M629.5 433.42h-6.9M482.7 412.97h6.9M629.5 412.97h-6.9M482.7 392.53h6.9M629.5 392.53h-6.9M482.7 372.09h6.9M629.5 372.09h-6.9M482.7 468.15h3.5M629.5 468.15h-3.5M482.7 460.01h3.5M629.5 460.01h-3.5M482.7 455.84h3.5M629.5 455.84h-3.5M482.7 447.7h3.5M629.5 447.7h-3.5M482.7 439.57h3.5M629.5 439.57h-3.5M482.7 435.4h3.5M629.5 435.4h-3.5M482.7 427.26h3.5M629.5 427.26h-3.5M482.7 419.13h3.5M629.5 419.13h-3.5M482.7 414.95h3.5M629.5 414.95h-3.5M482.7 406.82h3.5M629.5 406.82h-3.5M482.7 398.68h3.5M629.5 398.68h-3.5M482.7 394.51h3.5M629.5 394.51h-3.5M482.7 386.38h3.5M629.5 386.38h-3.5M482.7 378.24h3.5M629.5 378.24h-3.5M482.7 374.07h3.5M629.5 374.07h-3.5M482.7 365.93h3.5M629.5 365.93h-3.5" stroke="#000" stroke-width="1.25" fill="none"/>
<polyline points="488.82,446.76 503.29,432.08 517.97,422.71 532.44,415.78 547.32,409.05 561.99,401.92 576.46,393.36 591.34,382.96 606.02,372.77 620.49,365.64" fill="none" stroke="#9400D3" stroke-width="1.5" stroke-linejoin="round"/>
<path d="M485.42 446.76h6.8M488.82 443.36v6.8M499.89 432.08h6.8M503.29 428.68v6.8M514.57 422.71h6.8M517.97 419.31v6.8M529.04 415.78h6.8M532.44 412.38v6.8M543.92 409.05h6.8M547.32 405.65v6.8M558.59 401.92h6.8M561.99 398.52v6.8M573.06 393.36h6.8M576.46 389.96v6.8M572.96 392.36h7M572.96 394.36h7M587.94 382.96h6.8M591.34 379.56v6.8M591.34 379.9V386.02M587.84 379.9h7M587.84 386.02h7M602.62 372.77h6.8M606.02 369.37v6.8M602.52 371.77h7M602.52 373.77h7M617.09 365.64h6.8M620.49 362.24v6.8M616.99 364.64h7M616.99 366.64h7" fill="none" stroke="#9400D3" stroke-width="1.25"/>
<polyline points="488.82,434.12 503.29,424.75 517.97,420.26 532.44,416.8 547.32,413.54 561.99,411.09 576.46,408.44 591.34,406.61 606.02,404.97 620.49,403.55" fill="none" stroke="#009E73" stroke-width="1.5" stroke-linejoin="round"/>
<path d="M485.12 430.42l7.4 7.4M485.12 437.82l7.4 -7.4M485.32 433.62h7M485.32 434.62h7M499.59 421.05l7.4 7.4M499.59 428.45l7.4 -7.4M499.79 424.25h7M499.79 425.25h7M514.27 416.56l7.4 7.4M514.27 423.96l7.4 -7.4M514.47 419.76h7M514.47 420.76h7M528.74 413.1l7.4 7.4M528.74 420.5l7.4 -7.4M528.94 416.3h7M528.94 417.3h7M543.62 409.84l7.4 7.4M543.62 417.24l7.4 -7.4M543.82 413.04h7M543.82 414.04h7M558.29 407.39l7.4 7.4M558.29 414.79l7.4 -7.4M558.49 410.59h7M558.49 411.59h7M572.76 404.74l7.4 7.4M572.76 412.14l7.4 -7.4M572.96 407.94h7M572.96 408.94h7M587.64 402.91l7.4 7.4M587.64 410.31l7.4 -7.4M587.84 406.11h7M587.84 407.11h7M602.32 401.27l7.4 7.4M602.32 408.67l7.4 -7.4M602.52 404.47h7M602.52 405.47h7M616.79 399.85l7.4 7.4M616.79 407.25l7.4 -7.4M616.99 403.05h7M616.99 404.05h7" fill="none" stroke="#009E73" stroke-width="1.25"/>
<polyline points="488.82,443.09 503.29,430.45 517.97,422.3 532.44,416.18 547.32,410.68 561.99,404.97 576.46,399.47 591.34,393.36 606.02,387.65 620.49,382.15 629.46,378.89" fill="none" stroke="#56B4E9" stroke-width="1.4" stroke-linejoin="round"/>
<polyline points="488.82,444.11 503.29,430.04 517.97,421.69 532.44,415.57 547.32,410.48 561.99,406.61 576.46,403.34 591.34,401.31 606.02,399.68 620.49,398.45 629.46,397.84" fill="none" stroke="#E69F00" stroke-width="1.4" stroke-linejoin="round"/>
<rect x="482.7" y="357.8" width="146.8" height="116.5" fill="none" stroke="#000" stroke-width="1.5"/>
<path d="M706.44 474.3v-6.9M706.44 357.8v6.9M735.78 474.3v-6.9M735.78 357.8v6.9M765.12 474.3v-6.9M765.12 357.8v6.9M794.46 474.3v-6.9M794.46 357.8v6.9M677.1 453.86h6.9M823.8 453.86h-6.9M677.1 433.42h6.9M823.8 433.42h-6.9M677.1 412.97h6.9M823.8 412.97h-6.9M677.1 392.53h6.9M823.8 392.53h-6.9M677.1 372.09h6.9M823.8 372.09h-6.9M677.1 468.15h3.5M823.8 468.15h-3.5M677.1 460.01h3.5M823.8 460.01h-3.5M677.1 455.84h3.5M823.8 455.84h-3.5M677.1 447.7h3.5M823.8 447.7h-3.5M677.1 439.57h3.5M823.8 439.57h-3.5M677.1 435.4h3.5M823.8 435.4h-3.5M677.1 427.26h3.5M823.8 427.26h-3.5M677.1 419.13h3.5M823.8 419.13h-3.5M677.1 414.95h3.5M823.8 414.95h-3.5M677.1 406.82h3.5M823.8 406.82h-3.5M677.1 398.68h3.5M823.8 398.68h-3.5M677.1 394.51h3.5M823.8 394.51h-3.5M677.1 386.38h3.5M823.8 386.38h-3.5M677.1 378.24h3.5M823.8 378.24h-3.5M677.1 374.07h3.5M823.8 374.07h-3.5M677.1 365.93h3.5M823.8 365.93h-3.5" stroke="#000" stroke-width="1.25" fill="none"/>
<polyline points="683.01,441.25 697.68,419.24 712.36,406.61 727.03,393.76 741.71,380.52 756.38,370.32 771.06,364.21 785.73,361.15 800.41,359.52 815.08,359.52" fill="none" stroke="#9400D3" stroke-width="1.5" stroke-linejoin="round"/>
<path d="M679.61 441.25h6.8M683.01 437.85v6.8M694.28 419.24h6.8M697.68 415.84v6.8M708.96 406.61h6.8M712.36 403.21v6.8M708.86 405.61h7M708.86 407.61h7M723.63 393.76h6.8M727.03 390.36v6.8M723.53 392.76h7M723.53 394.76h7M738.31 380.52h6.8M741.71 377.12v6.8M741.71 377.05V385.61M738.21 377.05h7M738.21 385.61h7M752.98 370.32h6.8M756.38 366.92v6.8M756.38 368.29V372.77M752.88 368.29h7M752.88 372.77h7M767.66 364.21h6.8M771.06 360.81v6.8M782.33 361.15h6.8M785.73 357.75v6.8M797.01 359.52h6.8M800.41 356.12v6.8M811.68 359.52h6.8M815.08 356.12v6.8" fill="none" stroke="#9400D3" stroke-width="1.25"/>
<polyline points="683.01,419.24 697.68,413.54 712.36,410.48 727.03,408.03 741.71,406.4 756.38,404.77 771.06,403.14 785.73,402.12 800.41,401.1 815.08,400.49" fill="none" stroke="#009E73" stroke-width="1.5" stroke-linejoin="round"/>
<path d="M679.31 415.54l7.4 7.4M679.31 422.94l7.4 -7.4M679.51 418.74h7M679.51 419.74h7M693.98 409.84l7.4 7.4M693.98 417.24l7.4 -7.4M694.18 413.04h7M694.18 414.04h7M708.66 406.78l7.4 7.4M708.66 414.18l7.4 -7.4M708.86 409.98h7M708.86 410.98h7M723.33 404.33l7.4 7.4M723.33 411.73l7.4 -7.4M723.53 407.53h7M723.53 408.53h7M738.01 402.7l7.4 7.4M738.01 410.1l7.4 -7.4M738.21 405.9h7M738.21 406.9h7M752.68 401.07l7.4 7.4M752.68 408.47l7.4 -7.4M752.88 404.27h7M752.88 405.27h7M767.36 399.44l7.4 7.4M767.36 406.84l7.4 -7.4M767.56 402.64h7M767.56 403.64h7M782.03 398.42l7.4 7.4M782.03 405.82l7.4 -7.4M782.23 401.62h7M782.23 402.62h7M796.71 397.4l7.4 7.4M796.71 404.8l7.4 -7.4M796.91 400.6h7M796.91 401.6h7M811.38 396.79l7.4 7.4M811.38 404.19l7.4 -7.4M811.58 399.99h7M811.58 400.99h7" fill="none" stroke="#009E73" stroke-width="1.25"/>
<polyline points="683.01,434.94 697.68,411.5 712.36,397.43 727.03,385.61 741.71,376.44 756.38,368.69 771.06,363.6 785.73,360.75 800.41,359.73 815.08,359.52 823.64,359.52" fill="none" stroke="#56B4E9" stroke-width="1.4" stroke-linejoin="round"/>
<polyline points="683.01,422.91 697.68,415.17 712.36,410.07 727.03,406.4 741.71,403.96 756.38,401.92 771.06,400.08 785.73,398.66 800.41,397.43 815.08,396.21 823.64,395.39" fill="none" stroke="#E69F00" stroke-width="1.4" stroke-linejoin="round"/>
<rect x="677.1" y="357.8" width="146.7" height="116.5" fill="none" stroke="#000" stroke-width="1.5"/>
<text transform="translate(168.15 44.4) rotate(0.03) scale(1 1.05)" text-anchor="middle" font-size="15.4px">a) AC[VO]</text>
<text transform="translate(362 44.4) rotate(0.03) scale(1 1.05)" text-anchor="middle" font-size="15.4px">b) AC[VI]</text>
<text transform="translate(556.1 44.4) rotate(0.03) scale(1 1.05)" text-anchor="middle" font-size="15.4px">c) AC[BE]</text>
<text transform="translate(750.45 44.4) rotate(0.03) scale(1 1.05)" text-anchor="middle" font-size="15.4px">d) AC[BK]</text>
<text transform="translate(85.6 184.15) rotate(0.03) scale(1 1.05)" text-anchor="end">0e+00</text>
<text transform="translate(85.6 169.6) rotate(0.03) scale(1 1.05)" text-anchor="end">1e-03</text>
<text transform="translate(85.6 155.05) rotate(0.03) scale(1 1.05)" text-anchor="end">2e-03</text>
<text transform="translate(85.6 140.5) rotate(0.03) scale(1 1.05)" text-anchor="end">3e-03</text>
<text transform="translate(85.6 125.95) rotate(0.03) scale(1 1.05)" text-anchor="end">4e-03</text>
<text transform="translate(85.6 111.4) rotate(0.03) scale(1 1.05)" text-anchor="end">5e-03</text>
<text transform="translate(85.6 96.85) rotate(0.03) scale(1 1.05)" text-anchor="end">6e-03</text>
<text transform="translate(85.6 82.3) rotate(0.03) scale(1 1.05)" text-anchor="end">7e-03</text>
<text transform="translate(85.6 67.75) rotate(0.03) scale(1 1.05)" text-anchor="end">8e-03</text>
<text transform="translate(279.2 184.15) rotate(0.03) scale(1 1.05)" text-anchor="end">0</text>
<text transform="translate(279.2 167.52) rotate(0.03) scale(1 1.05)" text-anchor="end">0.05</text>
<text transform="translate(279.2 150.89) rotate(0.03) scale(1 1.05)" text-anchor="end">0.1</text>
<text transform="translate(279.2 134.26) rotate(0.03) scale(1 1.05)" text-anchor="end">0.15</text>
<text transform="translate(279.2 117.64) rotate(0.03) scale(1 1.05)" text-anchor="end">0.2</text>
<text transform="translate(279.2 101.01) rotate(0.03) scale(1 1.05)" text-anchor="end">0.25</text>
<text transform="translate(279.2 84.38) rotate(0.03) scale(1 1.05)" text-anchor="end">0.3</text>
<text transform="translate(279.2 67.75) rotate(0.03) scale(1 1.05)" text-anchor="end">0.35</text>
<text transform="translate(473.3 184.15) rotate(0.03) scale(1 1.05)" text-anchor="end">0</text>
<text transform="translate(473.3 164.75) rotate(0.03) scale(1 1.05)" text-anchor="end">1</text>
<text transform="translate(473.3 145.35) rotate(0.03) scale(1 1.05)" text-anchor="end">2</text>
<text transform="translate(473.3 125.95) rotate(0.03) scale(1 1.05)" text-anchor="end">3</text>
<text transform="translate(473.3 106.55) rotate(0.03) scale(1 1.05)" text-anchor="end">4</text>
<text transform="translate(473.3 87.15) rotate(0.03) scale(1 1.05)" text-anchor="end">5</text>
<text transform="translate(473.3 67.75) rotate(0.03) scale(1 1.05)" text-anchor="end">6</text>
<text transform="translate(667.7 184.15) rotate(0.03) scale(1 1.05)" text-anchor="end">0</text>
<text transform="translate(667.7 164.75) rotate(0.03) scale(1 1.05)" text-anchor="end">0.5</text>
<text transform="translate(667.7 145.35) rotate(0.03) scale(1 1.05)" text-anchor="end">1</text>
<text transform="translate(667.7 125.95) rotate(0.03) scale(1 1.05)" text-anchor="end">1.5</text>
<text transform="translate(667.7 106.55) rotate(0.03) scale(1 1.05)" text-anchor="end">2</text>
<text transform="translate(667.7 87.15) rotate(0.03) scale(1 1.05)" text-anchor="end">2.5</text>
<text transform="translate(667.7 67.75) rotate(0.03) scale(1 1.05)" text-anchor="end">3</text>
<text transform="translate(85.6 324.24) rotate(0.03) scale(1 1.05)" text-anchor="end">0.1</text>
<text transform="translate(85.6 308.72) rotate(0.03) scale(1 1.05)" text-anchor="end">0.3</text>
<text transform="translate(85.6 293.2) rotate(0.03) scale(1 1.05)" text-anchor="end">0.5</text>
<text transform="translate(85.6 277.68) rotate(0.03) scale(1 1.05)" text-anchor="end">0.7</text>
<text transform="translate(85.6 262.16) rotate(0.03) scale(1 1.05)" text-anchor="end">0.9</text>
<text transform="translate(85.6 480.4) rotate(0.03) scale(1 1.05)" text-anchor="end">10<tspan font-size="12.16px" dy="-6.8">-4</tspan></text>
<text transform="translate(85.6 459.96) rotate(0.03) scale(1 1.05)" text-anchor="end">10<tspan font-size="12.16px" dy="-6.8">-3</tspan></text>
<text transform="translate(85.6 439.52) rotate(0.03) scale(1 1.05)" text-anchor="end">10<tspan font-size="12.16px" dy="-6.8">-2</tspan></text>
<text transform="translate(85.6 419.07) rotate(0.03) scale(1 1.05)" text-anchor="end">10<tspan font-size="12.16px" dy="-6.8">-1</tspan></text>
<text transform="translate(85.6 398.63) rotate(0.03) scale(1 1.05)" text-anchor="end">10<tspan font-size="12.16px" dy="-6.8">0</tspan></text>
<text transform="translate(85.6 378.19) rotate(0.03) scale(1 1.05)" text-anchor="end">10<tspan font-size="12.16px" dy="-6.8">1</tspan></text>
<text transform="translate(95 495.3) rotate(0.03) scale(1 1.05)" text-anchor="middle">0</text>
<text transform="translate(124.26 495.3) rotate(0.03) scale(1 1.05)" text-anchor="middle">10</text>
<text transform="translate(153.52 495.3) rotate(0.03) scale(1 1.05)" text-anchor="middle">20</text>
<text transform="translate(182.78 495.3) rotate(0.03) scale(1 1.05)" text-anchor="middle">30</text>
<text transform="translate(212.04 495.3) rotate(0.03) scale(1 1.05)" text-anchor="middle">40</text>
<text transform="translate(241.3 495.3) rotate(0.03) scale(1 1.05)" text-anchor="middle">50</text>
<text transform="translate(288.6 495.3) rotate(0.03) scale(1 1.05)" text-anchor="middle">0</text>
<text transform="translate(317.96 495.3) rotate(0.03) scale(1 1.05)" text-anchor="middle">10</text>
<text transform="translate(347.32 495.3) rotate(0.03) scale(1 1.05)" text-anchor="middle">20</text>
<text transform="translate(376.68 495.3) rotate(0.03) scale(1 1.05)" text-anchor="middle">30</text>
<text transform="translate(406.04 495.3) rotate(0.03) scale(1 1.05)" text-anchor="middle">40</text>
<text transform="translate(435.4 495.3) rotate(0.03) scale(1 1.05)" text-anchor="middle">50</text>
<text transform="translate(482.7 495.3) rotate(0.03) scale(1 1.05)" text-anchor="middle">0</text>
<text transform="translate(512.06 495.3) rotate(0.03) scale(1 1.05)" text-anchor="middle">10</text>
<text transform="translate(541.42 495.3) rotate(0.03) scale(1 1.05)" text-anchor="middle">20</text>
<text transform="translate(570.78 495.3) rotate(0.03) scale(1 1.05)" text-anchor="middle">30</text>
<text transform="translate(600.14 495.3) rotate(0.03) scale(1 1.05)" text-anchor="middle">40</text>
<text transform="translate(629.5 495.3) rotate(0.03) scale(1 1.05)" text-anchor="middle">50</text>
<text transform="translate(677.1 495.3) rotate(0.03) scale(1 1.05)" text-anchor="middle">0</text>
<text transform="translate(706.44 495.3) rotate(0.03) scale(1 1.05)" text-anchor="middle">10</text>
<text transform="translate(735.78 495.3) rotate(0.03) scale(1 1.05)" text-anchor="middle">20</text>
<text transform="translate(765.12 495.3) rotate(0.03) scale(1 1.05)" text-anchor="middle">30</text>
<text transform="translate(794.46 495.3) rotate(0.03) scale(1 1.05)" text-anchor="middle">40</text>
<text transform="translate(823.8 495.3) rotate(0.03) scale(1 1.05)" text-anchor="middle">50</text>
<text transform="translate(27.6 120.5) rotate(-90) scale(1 1.05)" text-anchor="middle">Throughput (Mbps)</text>
<text transform="translate(20 269.5) rotate(-90) scale(1 1.05)" text-anchor="middle" font-size="15.45px" stroke="#000" stroke-width="0.35">Fraction of failed TXs</text>
<text transform="translate(45.6 411.2) rotate(-90) scale(1 1.05)" text-anchor="middle">Avg. Time. bet. sx tx. (s)</text>
<text transform="translate(431.2 535.1) rotate(0.03) scale(1 1.05)" text-anchor="middle" stroke="#000" stroke-width="0.25">Contenders (N)</text>
<text transform="translate(771.3 514.5) rotate(0.03) scale(1 1.05)" text-anchor="end" font-size="15.4px">EDCA nodes</text>
<text transform="translate(771.3 534.4) rotate(0.03) scale(1 1.05)" text-anchor="end" font-size="15.4px">CSMA/ECA<tspan font-size="12.45px" dy="3.5">QoS+TXOP</tspan><tspan dy="-3.5"> nodes</tspan></text>
<text transform="translate(771.3 554.2) rotate(0.03) scale(1 1.05)" text-anchor="end" font-size="15.4px">EDCA</text>
<text transform="translate(771.3 574.1) rotate(0.03) scale(1 1.05)" text-anchor="end" font-size="15.4px">CSMA/ECA<tspan font-size="12.45px" dy="3.5">QoS+TXOP</tspan></text>
<path d="M780.2 509.2H824.2M780.2 505.7v7M824.2 505.7v7M802.2 505.7v7" stroke="#9400D3" stroke-width="1.3" fill="none"/>
<path d="M780.2 529.1H824.2M780.2 525.6v7M824.2 525.6v7M798.7 525.6l7 7M798.7 532.6l7 -7" stroke="#009E73" stroke-width="1.3" fill="none"/>
<path d="M780.2 548.9H824.2" stroke="#56B4E9" stroke-width="1.3" fill="none"/>
<path d="M780.2 568.8H824.2" stroke="#E69F00" stroke-width="1.3" fill="none"/>
</svg>
</body></html>
